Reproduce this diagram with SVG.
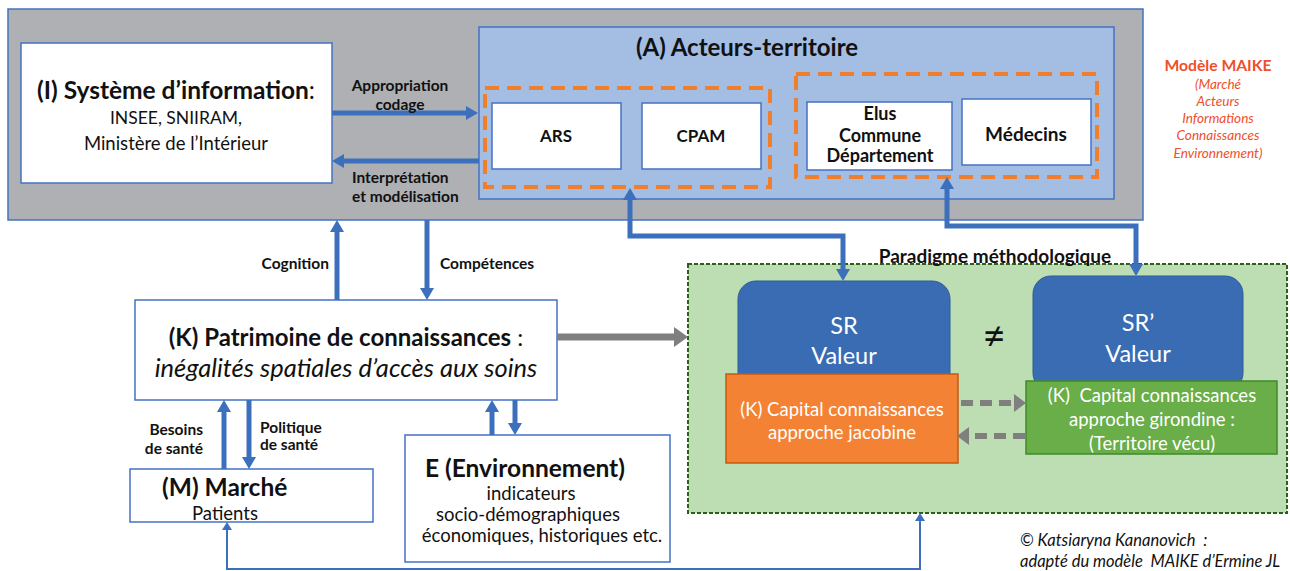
<svg xmlns="http://www.w3.org/2000/svg" width="1290" height="571" viewBox="0 0 1290 571">
<style>
text{font-family:Lato,"Liberation Sans",sans-serif;fill:#111}
.b{font-weight:bold}
.box{fill:#fff;stroke:#4472c4;stroke-width:1.5}
.dash{fill:none;stroke:#f07f2d;stroke-width:4;stroke-dasharray:14 8}
.ba{fill:none;stroke:#3d70bc;stroke-width:5}
.w{fill:#fff}
.red{fill:#ee4f2c}
.lbl{font-weight:bold;font-size:15.5px}
</style>
<defs>
<marker id="ab" viewBox="0 0 12 14" refX="1" refY="7" markerWidth="12" markerHeight="14" markerUnits="userSpaceOnUse" orient="auto-start-reverse"><path d="M0,0 L12,7 L0,14 Z" fill="#3d70bc"/></marker>
<marker id="at" viewBox="0 0 8 10" refX="1" refY="5" markerWidth="8" markerHeight="10" markerUnits="userSpaceOnUse" orient="auto-start-reverse"><path d="M0,0 L8,5 L0,10 Z" fill="#3d70bc"/></marker>
<marker id="ag" viewBox="0 0 14 20" refX="1" refY="10" markerWidth="14" markerHeight="20" markerUnits="userSpaceOnUse" orient="auto"><path d="M0,0 L14,10 L0,20 Z" fill="#7f7f7f"/></marker>
<marker id="ad" viewBox="0 0 12 18" refX="1" refY="9" markerWidth="12" markerHeight="18" markerUnits="userSpaceOnUse" orient="auto"><path d="M0,0 L12,9 L0,18 Z" fill="#7f7f7f"/></marker>
</defs>

<g id="frame">
<rect x="8" y="9" width="1135" height="211" fill="#aeb0b3" stroke="#4472c4" stroke-width="1.5"/>
</g>

<g id="sys-info">
<rect class="box" x="21" y="43" width="311" height="140"/>
<text x="176" y="99" font-size="24.5" text-anchor="middle"><tspan class="b">(I) Système d’information</tspan>:</text>
<text x="176" y="124" font-size="17.5" text-anchor="middle">INSEE, SNIIRAM,</text>
<text x="176" y="150" font-size="18.5" text-anchor="middle">Ministère de l’Intérieur</text>
</g>

<g id="acteurs">
<rect x="479" y="27" width="635" height="172" fill="#a3bde3" stroke="#4472c4" stroke-width="1.5"/>
<text class="b" x="747" y="56" font-size="24" text-anchor="middle">(A) Acteurs-territoire</text>
<rect class="dash" x="485" y="88" width="285" height="99"/>
<rect class="dash" x="796" y="74" width="301" height="103"/>
</g>
<g id="ars"><rect class="box" x="492" y="103" width="129" height="66"/><text class="b" x="556" y="142" font-size="17" text-anchor="middle">ARS</text></g>
<g id="cpam"><rect class="box" x="642" y="103" width="119" height="66"/><text class="b" x="701" y="142" font-size="17" text-anchor="middle">CPAM</text></g>
<g id="elus"><rect class="box" x="807" y="102" width="145" height="68"/>
<text class="b" x="880" y="119.5" font-size="18" text-anchor="middle">Elus</text>
<text class="b" x="880" y="141.5" font-size="18" text-anchor="middle">Commune</text>
<text class="b" x="880" y="161.5" font-size="18" text-anchor="middle">Département</text></g>
<g id="medecins"><rect class="box" x="962" y="99" width="129" height="66"/><text class="b" x="1026" y="141" font-size="19" text-anchor="middle">Médecins</text></g>

<g id="maike">
<text class="b red" x="1218" y="70.5" font-size="15.7" text-anchor="middle">Modèle MAIKE</text>
<text class="red" x="1218" y="89" font-size="13.6" font-style="italic" text-anchor="middle">(Marché</text>
<text class="red" x="1218" y="105.5" font-size="13.6" font-style="italic" text-anchor="middle">Acteurs</text>
<text class="red" x="1218" y="123" font-size="13.6" font-style="italic" text-anchor="middle">Informations</text>
<text class="red" x="1218" y="140" font-size="13.6" font-style="italic" text-anchor="middle">Connaissances</text>
<text class="red" x="1218" y="158" font-size="13.6" font-style="italic" text-anchor="middle">Environnement)</text>
</g>

<g id="patrimoine">
<rect class="box" x="135" y="300" width="422" height="100"/>
<text x="346" y="346" font-size="24" text-anchor="middle"><tspan class="b">(K) Patrimoine de connaissances</tspan> :</text>
<text x="346" y="377" font-size="25.5" font-style="italic" text-anchor="middle">inégalités spatiales d’accès aux soins</text>
</g>

<g id="marche">
<rect class="box" x="130" y="469" width="243" height="53"/>
<text class="b" x="162" y="496" font-size="24.5">(M) Marché</text>
<text x="225" y="519.5" font-size="18.5" text-anchor="middle">Patients</text>
</g>

<g id="environnement">
<rect class="box" x="405" y="435" width="265" height="127"/>
<text class="b" x="425" y="477" font-size="24.5">E (Environnement)</text>
<text x="531" y="499.5" font-size="18.5" text-anchor="middle">indicateurs</text>
<text x="528" y="520.5" font-size="18.5" text-anchor="middle">socio-démographiques</text>
<text x="542" y="541.5" font-size="18.5" text-anchor="middle">économiques, historiques etc.</text>
</g>

<g id="paradigme">
<rect x="688" y="264" width="599" height="249" fill="#bcdeb2" stroke="#2d5e1e" stroke-width="2" stroke-dasharray="4 2"/>
<text class="b" x="995" y="263" font-size="19" text-anchor="middle">Paradigme méthodologique</text>
<text x="994" y="350" font-size="40" text-anchor="middle">≠</text>
</g>
<g id="sr">
<rect x="738" y="281" width="212" height="110" rx="18" fill="#3a6cb4" stroke="#2f5a9a" stroke-width="1"/>
<text class="w" x="844" y="333.5" font-size="23.5" text-anchor="middle">SR</text>
<text class="w" x="844" y="363.5" font-size="23.5" text-anchor="middle">Valeur</text>
</g>
<g id="jacobine">
<rect x="726" y="374" width="232" height="89" fill="#f38234" stroke="#c55a11" stroke-width="1.5"/>
<text class="w" x="842" y="415.5" font-size="18.5" text-anchor="middle">(K) Capital connaissances</text>
<text class="w" x="842" y="438.5" font-size="18.5" text-anchor="middle">approche jacobine</text>
</g>
<g id="sr-prime">
<rect x="1033" y="276" width="210" height="115" rx="18" fill="#3a6cb4" stroke="#2f5a9a" stroke-width="1"/>
<text class="w" x="1138" y="330.5" font-size="23.5" text-anchor="middle">SR’</text>
<text class="w" x="1138" y="361.5" font-size="23.5" text-anchor="middle">Valeur</text>
</g>
<g id="girondine">
<rect x="1026" y="381" width="251" height="73" fill="#69ae48" stroke="#3f8a2a" stroke-width="1.5"/>
<text class="w" x="1152" y="401.5" font-size="18.5" text-anchor="middle" xml:space="preserve">(K)  Capital connaissances</text>
<text class="w" x="1152" y="425.5" font-size="18.5" text-anchor="middle">approche girondine :</text>
<text class="w" x="1152" y="449.5" font-size="18.5" text-anchor="middle">(Territoire vécu)</text>
</g>

<g id="credit">
<text x="1020" y="546" font-size="16.5" font-style="italic" xml:space="preserve">© Katsiaryna Kananovich  :</text>
<text x="1020" y="567" font-size="16.5" font-style="italic" xml:space="preserve">adapté du modèle  MAIKE d’Ermine JL</text>
</g>

<g id="connectors">
<line class="ba" x1="332" y1="113" x2="467" y2="113" marker-end="url(#ab)"/>
<line class="ba" x1="479" y1="161" x2="343" y2="161" marker-end="url(#ab)"/>
<line class="ba" x1="337" y1="300" x2="337" y2="231" marker-end="url(#ab)"/>
<line class="ba" x1="427" y1="220" x2="427" y2="289" marker-end="url(#ab)"/>
<line class="ba" x1="224" y1="469" x2="224" y2="411" marker-end="url(#ab)"/>
<line class="ba" x1="249" y1="400" x2="249" y2="458" marker-end="url(#ab)"/>
<line class="ba" x1="492" y1="435" x2="492" y2="411" marker-end="url(#ab)"/>
<line class="ba" x1="515" y1="400" x2="515" y2="424" marker-end="url(#ab)"/>
<path class="ba" d="M630,199 L630,236 L843,236 L843,270" marker-start="url(#ab)" marker-end="url(#ab)"/>
<path class="ba" d="M947,188 L947,226 L1136,226 L1136,265" marker-start="url(#ab)" marker-end="url(#ab)"/>
<path d="M227,529 L227,569 L920,569 L920,520" fill="none" stroke="#3d70bc" stroke-width="2" marker-start="url(#at)" marker-end="url(#at)"/>
<line x1="557" y1="337" x2="675" y2="337" stroke="#7f7f7f" stroke-width="7" marker-end="url(#ag)"/>
<line x1="961" y1="403" x2="1015" y2="403" stroke="#7f7f7f" stroke-width="6" stroke-dasharray="12 7" marker-end="url(#ad)"/>
<line x1="1025" y1="436" x2="968" y2="436" stroke="#7f7f7f" stroke-width="6" stroke-dasharray="12 7" marker-end="url(#ad)"/>
<text class="lbl" x="400" y="90.5" text-anchor="middle">Appropriation</text>
<text class="lbl" x="400" y="109.5" text-anchor="middle">codage</text>
<text class="lbl" x="352" y="182.5">Interprétation</text>
<text class="lbl" x="352" y="201.5">et modélisation</text>
<text class="lbl" x="329" y="268.5" text-anchor="end">Cognition</text>
<text class="lbl" x="440" y="268.5">Compétences</text>
<text class="lbl" x="203" y="435" text-anchor="end">Besoins</text>
<text class="lbl" x="203" y="454" text-anchor="end">de santé</text>
<text class="lbl" x="260" y="433" >Politique</text>
<text class="lbl" x="260" y="450">de santé</text>
</g>
</svg>
